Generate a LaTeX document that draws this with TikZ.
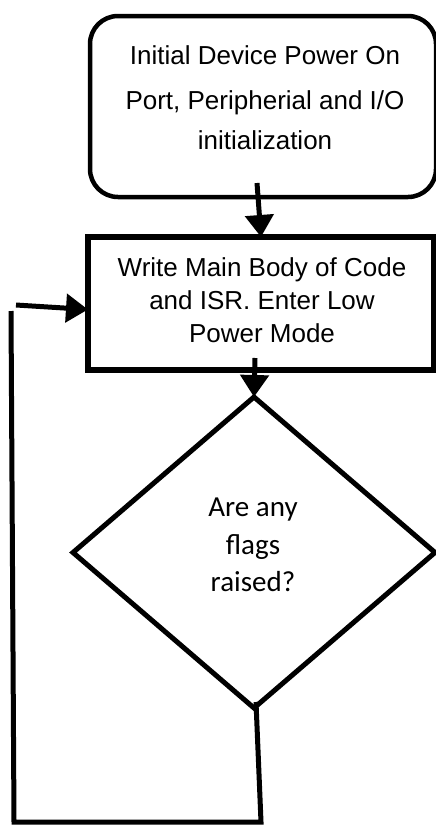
\documentclass[tikz,border=0pt]{standalone}
\usepackage{fontspec}
\setmainfont{Liberation Sans}
\newfontfamily\calibfont{Carlito}
\usetikzlibrary{shapes.geometric,arrows.meta,calc}
\begin{document}
\begin{tikzpicture}[x=1pt,y=-1pt,
  startbox/.style={draw=black, line width=4.5pt, rounded corners=28pt, rectangle,
    minimum width=346pt, minimum height=181pt, inner sep=0pt, outer sep=0pt},
  procbox/.style={draw=black, line width=6pt, rectangle,
    minimum width=346pt, minimum height=133pt, inner sep=0pt, outer sep=0pt},
  decbox/.style={draw=black, line width=5pt, diamond, inner sep=0pt, outer sep=0pt,
    minimum width=362pt, minimum height=311pt},
  arialtext/.style={align=center, inner sep=0pt},
  calibtext/.style={align=center, inner sep=0pt, font=\calibfont\fontsize{29}{37.5}\selectfont},
  conn/.style={draw=black, line width=5pt, line join=miter},
  arr/.style={conn, -{Triangle[length=22pt,width=28pt]}}
]
\useasboundingbox (0,0) rectangle (436,828);

% shapes
\node[startbox] (pwr) at (263,106.5) {};
\node[procbox] (wb) at (261,303.5) {};
\node[decbox] (dia) at (254,552.5) {};

% texts
\node[arialtext, font=\fontsize{26}{40}\selectfont] (pwrtext) at (265,97.5)
  {Initial Device Power On\\[5pt]Port, Peripherial and I/O\\initialization};
\node[arialtext, font=\fontsize{26}{33}\selectfont] (wbtext) at (262,300)
  {Write Main Body of Code\\and ISR. Enter Low\\Power Mode};
\node[calibtext] (diatext) at (253,545) {Are any\\flags\\raised?};

% connectors
\coordinate (a1) at (257,183);
\draw[arr] (a1) -- (wb.north);
\coordinate (a2) at (255,358);
\draw[arr] (a2) -- (dia.north);

\coordinate (lp0) at (256,702);
\coordinate (lp1) at (261,822);
\coordinate (lp2) at (14,822);
\coordinate (lp3) at (11,311);
\draw[conn] (lp0) -- (lp1) -- (lp2) -- (lp3);

\coordinate (fb) at (16,305);
\draw[arr] (fb) -- ($(wb.west)+(0,6)$);
\end{tikzpicture}
\end{document}
